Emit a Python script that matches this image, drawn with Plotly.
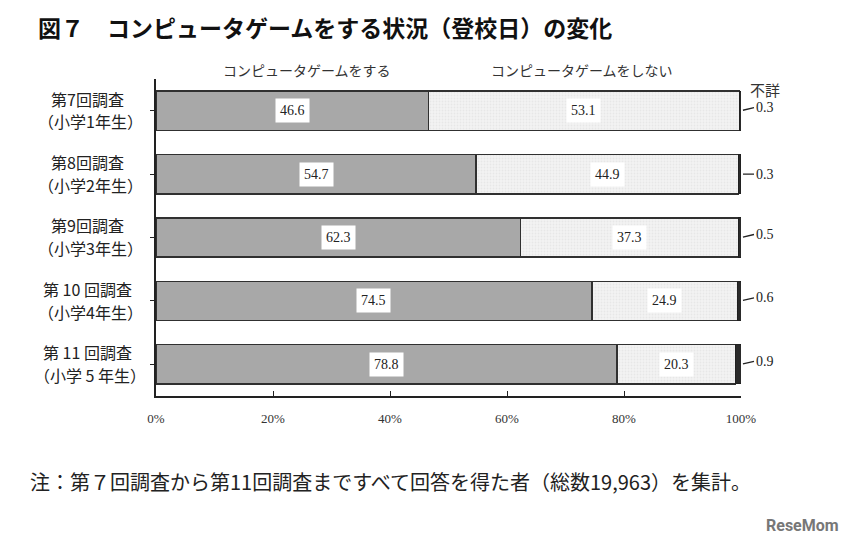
import plotly.graph_objects as go

categories = ["第7回調査<br>（小学1年生）", "第8回調査<br>（小学2年生）", "第9回調査<br>（小学3年生）",
              "第 10 回調査<br>（小学4年生）", "第 11 回調査<br>（小学 5 年生）"]
play = [46.6, 54.7, 62.3, 74.5, 78.8]
no_play = [53.1, 44.9, 37.3, 24.9, 20.3]
unknown = [0.3, 0.3, 0.5, 0.6, 0.9]
tick_vals = [0, 20, 40, 60, 80, 100]
tick_text = ["0%", "20%", "40%", "60%", "80%", "100%"]
series_names = ["コンピュータゲームをする", "コンピュータゲームをしない", "不詳"]

ids = list(range(len(categories)))
OFF = 8  # page body margin offset
W, H = 854, 550
L, T = 156 - OFF, 79 - OFF
B = H - (396 - OFF)
R = W - (741 - OFF)
ph = H - T - B
pw = W - L - R

def py(px):
    return (H - B - (px - OFF)) / ph

def pxx(px):
    return (px - OFF - L) / pw

fig = go.Figure()
line = dict(color="#303030", width=1.5)
fig.add_trace(go.Bar(y=ids, x=play, orientation="h", width=0.62,
                     marker=dict(color="#a8a8a8", line=line), name=series_names[0]))
fig.add_trace(go.Bar(y=ids, x=no_play, orientation="h", width=0.62,
                     marker=dict(color="#f2f2f2", line=line,
                                 pattern=dict(shape=".", fgcolor="#dcdcdc", bgcolor="#f3f3f3",
                                              size=3, solidity=0.3)),
                     name=series_names[1]))
fig.add_trace(go.Bar(y=ids, x=unknown, orientation="h", width=0.62,
                     marker=dict(color="#2a2a2a", line=dict(color="#202020", width=1)),
                     name=series_names[2]))

serif = "Liberation Serif"
jp = "Noto Sans CJK JP"
ann = []
for i in ids:
    for xc, v in [(play[i] / 2, play[i]), (play[i] + no_play[i] / 2, no_play[i])]:
        ann.append(dict(x=xc, y=i, xref="x", yref="y", text=f"{v:.1f}", showarrow=False,
                        font=dict(family=serif, size=14, color="#222"),
                        bgcolor="white", borderpad=4))
    ann.append(dict(x=100, y=i, xref="x", yref="y", text=f"{unknown[i]:.1f}",
                    showarrow=True, arrowhead=0, arrowwidth=1.3, arrowcolor="#222",
                    ax=13, ay=(-3 if i != 1 else 0), xanchor="left", yanchor="middle",
                    font=dict(family=serif, size=14, color="#222"), standoff=2))
    l1, l2 = categories[i].split("<br>")
    ann.append(dict(x=pxx(87), y=i - 0.19, xref="paper", yref="y", text=l1, showarrow=False,
                    xanchor="center", yanchor="middle", font=dict(family=jp, size=16, color="#222")))
    ann.append(dict(x=pxx(90), y=i + 0.17, xref="paper", yref="y", text=l2, showarrow=False,
                    xanchor="center", yanchor="middle", font=dict(family=jp, size=16, color="#222")))

def paper_text(x, y, text, size, color="#333", xanchor="center", family=jp):
    return dict(x=pxx(x), y=py(y), xref="paper", yref="paper", text=text,
                xanchor=xanchor, yanchor="middle", showarrow=False,
                font=dict(family=family, size=size, color=color))

ann.append(paper_text(307, 70, series_names[0], 14))
ann.append(paper_text(582, 70, series_names[1], 14))
ann.append(paper_text(765, 89, series_names[2], 15))
ann.append(paper_text(36, 27, "<b>図７　コンピュータゲームをする状況（登校日）の変化</b>", 23,
                      color="#111", xanchor="left"))
ann.append(paper_text(28, 481, "注：第７回調査から第11回調査まですべて回答を得た者（総数19,963）を集計。", 20,
                      color="#222", xanchor="left"))
ann.append(paper_text(841, 525, "<b>ReseMom</b>", 16, color="#777", xanchor="right", family="Roboto"))

fig.update_layout(
    width=W, height=H, barmode="stack", bargap=0.38, showlegend=False,
    margin=dict(l=L, r=R, t=T, b=B, autoexpand=False),
    plot_bgcolor="white", paper_bgcolor="white",
    annotations=ann,
    xaxis=dict(range=[0, 100], tickvals=tick_vals, ticktext=tick_text, showgrid=False,
               zeroline=False, showline=True, linecolor="#222", linewidth=1.5,
               ticks="inside", ticklen=5, tickcolor="#222",
               tickfont=dict(family=serif, size=13, color="#333"), ticklabelstandoff=10),
    yaxis=dict(range=[4.5, -0.5], tickvals=ids, showticklabels=False, showgrid=False,
               zeroline=False, showline=True, linecolor="#222", linewidth=1.5,
               ticks="outside", ticklen=4, tickson="boundaries", tickcolor="#222",
               type="linear"),
)
fig.write_html("out.html")
